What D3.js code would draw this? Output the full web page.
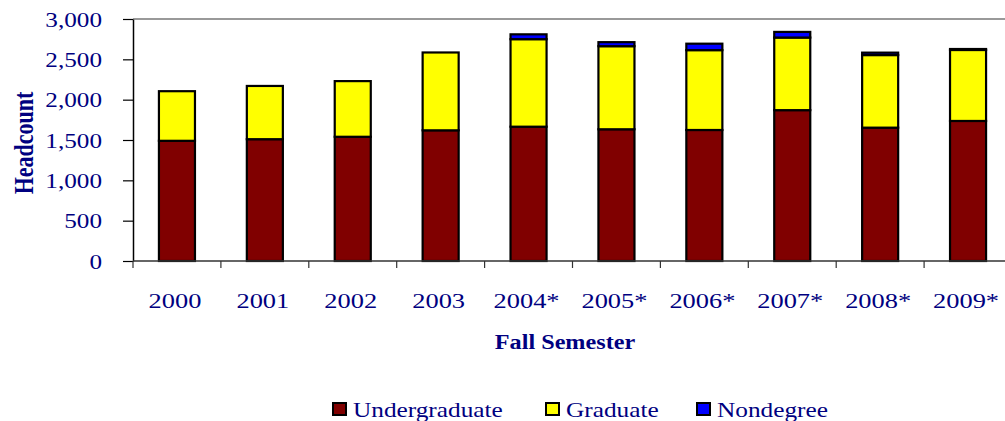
<!DOCTYPE html>
<html>
<head>
<meta charset="utf-8">
<script src="https://cdn.jsdelivr.net/npm/d3@7.9.0/dist/d3.min.js"></script>
<style>
  html, body { margin: 0; padding: 0; background: #fff; }
  svg { display: block; }
  text { font-family: "Liberation Serif", "Times New Roman", serif; fill: #000080; }
</style>
</head>
<body>
<svg id="chart" width="1005" height="421"></svg>
<script>
// data
const years = ['2000', '2001', '2002', '2003', '2004*', '2005*', '2006*', '2007*', '2008*', '2009*'];
const undergraduate = [1490, 1510, 1540, 1620, 1665, 1633, 1624, 1870, 1653, 1736];
const graduate = [615, 660, 690, 965, 1085, 1030, 990, 900, 900, 880];
const nondegree = [0, 0, 0, 0, 60, 50, 80, 70, 30, 12];
const yTicks = [0, 500, 1000, 1500, 2000, 2500, 3000];
const seriesNames = ['Undergraduate', 'Graduate', 'Nondegree'];
const seriesColors = ['#800000', '#ffff00', '#0000ff'];

const svg = d3.select('#chart');
const plotLeft = 133, plotRight = 1012, plotTop = 19, plotBottom = 261;
const stretch = 1.2; // the picture's text is wider than plain Times

const rows = years.map((yr, i) => ({
  year: yr,
  Undergraduate: undergraduate[i],
  Graduate: graduate[i],
  Nondegree: nondegree[i]
}));

const x = d3.scaleBand().domain(years).range([plotLeft, plotRight]).paddingInner(0.59).paddingOuter(0.295);
const y = d3.scaleLinear().domain([0, 3000]).range([plotBottom, plotTop]);
const color = d3.scaleOrdinal().domain(seriesNames).range(seriesColors);

const stacked = d3.stack().keys(seriesNames)(rows);

// top border of plot area
svg.append('line')
  .attr('x1', plotLeft).attr('x2', 1005)
  .attr('y1', plotTop).attr('y2', plotTop)
  .attr('stroke', '#999').attr('stroke-width', 2);

// bars
svg.append('g').selectAll('g')
  .data(stacked)
  .join('g')
  .attr('fill', d => color(d.key))
  .selectAll('rect')
  .data(d => d)
  .join('rect')
  .attr('x', d => x(d.data.year))
  .attr('width', x.bandwidth())
  .attr('y', d => y(d[1]))
  .attr('height', d => y(d[0]) - y(d[1]))
  .attr('stroke', '#000')
  .attr('stroke-width', 2.2);

// y axis
const yAxis = svg.append('g')
  .attr('transform', `translate(${plotLeft},0)`)
  .call(d3.axisLeft(y).tickValues(yTicks).tickFormat(d3.format(',')).tickSize(10).tickSizeOuter(0));
yAxis.select('.domain').attr('stroke', '#000').attr('stroke-width', 1.5);
yAxis.selectAll('.tick line').attr('stroke', '#000').attr('stroke-width', 1.2);
yAxis.selectAll('.tick text')
  .attr('x', 0).attr('dy', null)
  .attr('transform', `translate(-31,7) scale(${stretch},1)`)
  .style('font-size', '21px')
  .attr('fill', '#000080');

// x axis: labels at band centres, ticks at band boundaries
const xAxis = svg.append('g')
  .attr('transform', `translate(0,${plotBottom})`)
  .call(d3.axisBottom(x).tickSize(0).tickSizeOuter(0));
xAxis.select('.domain').attr('stroke', '#333').attr('stroke-width', 1.5)
  .attr('d', `M${plotLeft},0H1005`);
xAxis.selectAll('.tick text')
  .attr('y', 0).attr('dy', null)
  .attr('transform', `translate(-2,47) scale(${stretch},1)`)
  .style('font-size', '22px')
  .attr('fill', '#000080');

const gap = (x.step() - x.bandwidth()) / 2;
svg.append('g').selectAll('line')
  .data(years)
  .join('line')
  .attr('x1', d => x(d) - gap).attr('x2', d => x(d) - gap)
  .attr('y1', plotBottom).attr('y2', plotBottom + 7)
  .attr('stroke', '#333').attr('stroke-width', 1.2);

// axis titles
svg.append('text')
  .attr('transform', `translate(33,143) scale(${stretch},1) rotate(-90)`)
  .attr('text-anchor', 'middle')
  .style('font-size', '22px').style('font-weight', 'bold')
  .text('Headcount');

svg.append('text')
  .attr('transform', `translate(565,349) scale(1.1,1)`)
  .attr('text-anchor', 'middle')
  .style('font-size', '22px').style('font-weight', 'bold')
  .text('Fall Semester');

// legend
const legendX = [332, 545, 696];
const legend = svg.append('g').selectAll('g')
  .data(seriesNames)
  .join('g')
  .attr('transform', (d, i) => `translate(${legendX[i]},0)`);
legend.append('rect')
  .attr('x', 1).attr('y', 403)
  .attr('width', 13).attr('height', 12)
  .attr('fill', d => color(d))
  .attr('stroke', '#000').attr('stroke-width', 2);
legend.append('text')
  .attr('transform', `translate(21,417) scale(1.15,1)`)
  .style('font-size', '22px')
  .text(d => d);
</script>
</body>
</html>
